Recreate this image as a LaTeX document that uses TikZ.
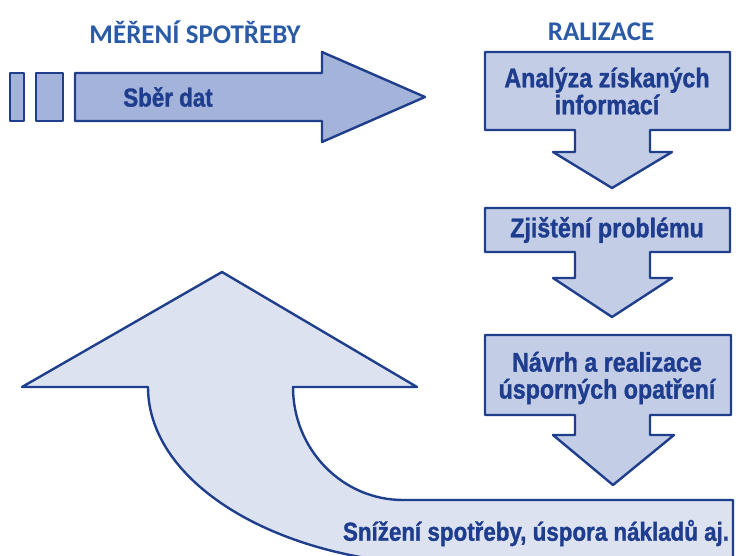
\documentclass[tikz,border=0pt]{standalone}
\usepackage{fontspec}
\newfontfamily\headfont{Carlito}
\newfontfamily\boxfont{Liberation Sans}[FakeStretch=0.86, FakeBold=1.2]
\definecolor{lineblue}{HTML}{1F3F8C}
\definecolor{textblue}{HTML}{1E3D8E}
\definecolor{headblue}{HTML}{2B5BA6}
\definecolor{fillmid}{HTML}{A3B3D9}
\definecolor{filllight}{HTML}{C3CDE6}
\definecolor{fillpale}{HTML}{DCE2F0}
\tikzset{
  outline/.style={draw=lineblue, line width=2.4pt, line join=round},
  heading/.style={font=\headfont\bfseries\fontsize{27}{30}\selectfont, text=headblue, inner sep=0pt},
  label/.style={font=\boxfont\bfseries\fontsize{27}{28}\selectfont, text=textblue, align=center, inner sep=0pt},
}
\begin{document}
\begin{tikzpicture}[x=1pt, y=-1pt]
\useasboundingbox (0,0) rectangle (736,556);
\clip (0,0) rectangle (736,556);
\fill[white] (0,0) rectangle (736,556);

% headings
\node[heading] (mereni) at (195,32) {MĚŘENÍ SPOTŘEBY};
\node[heading] (realizace) at (601,32) {RALIZACE};

% data collection arrow with its two leading bars
\draw[outline, fill=fillmid] (10,73) rectangle (24,121);
\draw[outline, fill=fillmid] (36,73) rectangle (63,121);
\draw[outline, fill=fillmid] (75,73) -- (322,73) -- (322,52) -- (425,97)
  -- (322,142) -- (322,121) -- (75,121) -- cycle;
\node[label, font=\boxfont\bfseries\fontsize{26}{28}\selectfont] (sber) at (168,97) {Sběr dat};

% returning curved arrow merged with the result box
\draw[outline, fill=fillpale] (222,272) -- (417,387) -- (293,387)
  .. controls (293,449.4) and (342.2,500) .. (403,500)
  -- (733,500) -- (733,600) -- (450,600) -- (450,565)
  .. controls (283.2,565) and (148,485.3) .. (148,387)
  -- (22,387) -- cycle;
\node[label, font=\boxfont\bfseries\fontsize{26}{28}\selectfont] (snizeni) at (536,533) {Snížení spotřeby, úspora nákladů aj.};

% realisation steps: boxes with downward arrows
\draw[outline, fill=filllight] (485,52) -- (730,52) -- (730,130) -- (650,130)
  -- (650,152) -- (672,152) -- (612,188) -- (553,152) -- (575,152)
  -- (575,130) -- (485,130) -- cycle;
\node[label] (analyza) at (607,91) {Analýza získaných\\[-1pt]informací};

\draw[outline, fill=filllight] (485,208) -- (730,208) -- (730,252) -- (650,252)
  -- (650,278) -- (672,278) -- (612,317) -- (553,278) -- (575,278)
  -- (575,252) -- (485,252) -- cycle;
\node[label] (problem) at (607,230) {Zjištění problému};

\draw[outline, fill=filllight] (485,335) -- (731,335) -- (731,415) -- (650,415)
  -- (650,435) -- (674,435) -- (613,485) -- (553,435) -- (575,435)
  -- (575,415) -- (485,415) -- cycle;
\node[label] (navrh) at (607,378) {Návrh a realizace\\[-1pt]úsporných opatření};
\end{tikzpicture}
\end{document}
